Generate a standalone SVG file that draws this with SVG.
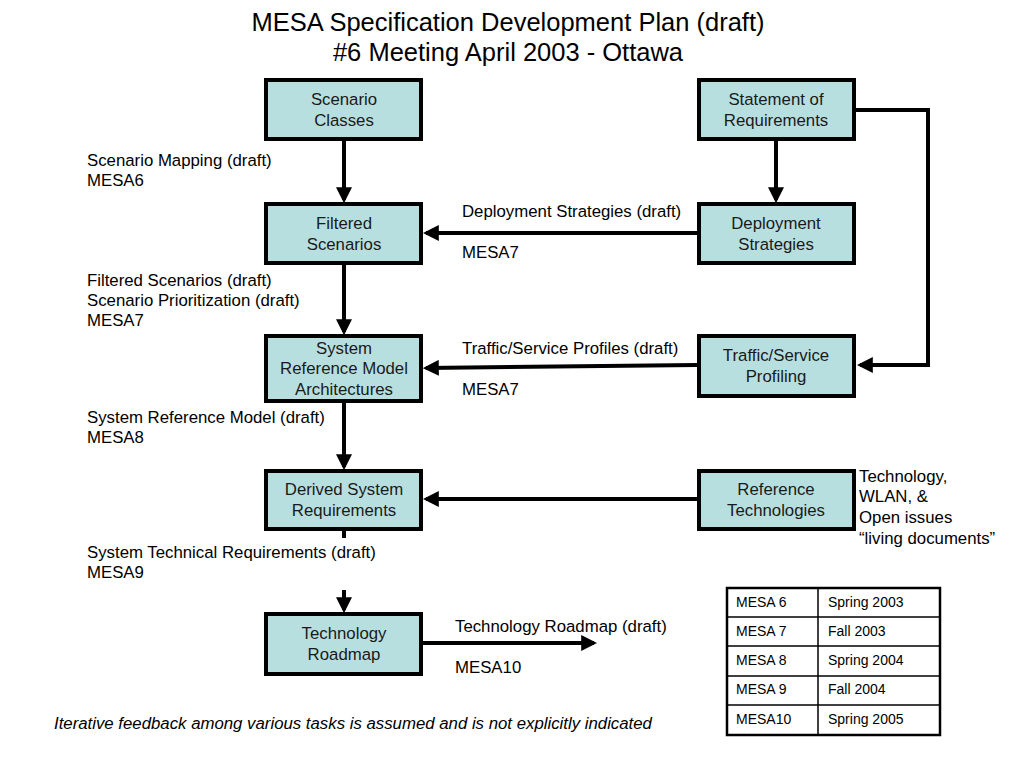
<svg xmlns="http://www.w3.org/2000/svg" width="1024" height="768" viewBox="0 0 1024 768">
<style>
.box{fill:#b8dfe0;stroke:#000;stroke-width:4}
.bt{font-family:"Liberation Sans",Arial,sans-serif;font-size:16.8px;fill:#1a1a1a;text-anchor:middle}
.lb{font-family:"Liberation Sans",Arial,sans-serif;font-size:16.8px;fill:#000}
.tt{font-family:"Liberation Sans",Arial,sans-serif;font-size:14px;fill:#000}
.ttl{font-family:"Liberation Sans",Arial,sans-serif;font-size:25.5px;fill:#000;text-anchor:middle}
.c{stroke:#000;stroke-width:4;fill:none}
.tl{stroke:#000;stroke-width:1.5;fill:none}
</style>
<defs>
<marker id="ah" markerWidth="4" markerHeight="4" refX="3.2" refY="2" orient="auto" markerUnits="strokeWidth">
<path d="M0,0 L4,2 L0,4 z" fill="#000"/>
</marker>
</defs>
<rect width="1024" height="768" fill="#fff"/>
<text class="ttl" x="508" y="31">MESA Specification Development Plan (draft)</text>
<text class="ttl" x="508" y="61">#6 Meeting April 2003 - Ottawa</text>

<g id="connectors">
<line class="c" x1="344" y1="141" x2="344" y2="200" marker-end="url(#ah)"/>
<line class="c" x1="776" y1="141" x2="776" y2="200" marker-end="url(#ah)"/>
<line class="c" x1="697" y1="233" x2="426" y2="233" marker-end="url(#ah)"/>
<line class="c" x1="344" y1="265" x2="344" y2="332" marker-end="url(#ah)"/>
<line class="c" x1="697" y1="365" x2="426" y2="368" marker-end="url(#ah)"/>
<polyline class="c" points="856,110 928,110 928,365 860,365" marker-end="url(#ah)"/>
<line class="c" x1="344" y1="403" x2="344" y2="467" marker-end="url(#ah)"/>
<line class="c" x1="697" y1="499" x2="426" y2="499" marker-end="url(#ah)"/>
<line class="c" x1="344" y1="531" x2="344" y2="538"/>
<line class="c" x1="344" y1="590" x2="344" y2="610" marker-end="url(#ah)"/>
<line class="c" x1="423" y1="643" x2="594" y2="643" marker-end="url(#ah)"/>
</g>

<g id="scenario-classes"><rect class="box" x="266" y="80" width="155" height="59"/><text class="bt" x="344" y="105">Scenario</text><text class="bt" x="344" y="126">Classes</text></g>
<g id="statement-of-requirements"><rect class="box" x="699" y="80" width="155" height="59"/><text class="bt" x="776" y="105">Statement of</text><text class="bt" x="776" y="126">Requirements</text></g>
<g id="filtered-scenarios"><rect class="box" x="266" y="204" width="155" height="59"/><text class="bt" x="344" y="229">Filtered</text><text class="bt" x="344" y="250">Scenarios</text></g>
<g id="deployment-strategies"><rect class="box" x="699" y="204" width="155" height="59"/><text class="bt" x="776" y="229">Deployment</text><text class="bt" x="776" y="250">Strategies</text></g>
<g id="system-reference-model"><rect class="box" x="266" y="336" width="155" height="65"/><text class="bt" x="344" y="354">System</text><text class="bt" x="344" y="374">Reference Model</text><text class="bt" x="344" y="395">Architectures</text></g>
<g id="traffic-service-profiling"><rect class="box" x="699" y="336" width="155" height="60"/><text class="bt" x="776" y="361">Traffic/Service</text><text class="bt" x="776" y="382">Profiling</text></g>
<g id="derived-system-requirements"><rect class="box" x="266" y="471" width="155" height="58"/><text class="bt" x="344" y="495">Derived System</text><text class="bt" x="344" y="516">Requirements</text></g>
<g id="reference-technologies"><rect class="box" x="699" y="471" width="155" height="58"/><text class="bt" x="776" y="495">Reference</text><text class="bt" x="776" y="516">Technologies</text></g>
<g id="technology-roadmap"><rect class="box" x="266" y="614" width="155" height="60"/><text class="bt" x="344" y="639">Technology</text><text class="bt" x="344" y="660">Roadmap</text></g>

<g id="labels">
<text class="lb" x="87" y="166">Scenario Mapping (draft)</text>
<text class="lb" x="87" y="186">MESA6</text>
<text class="lb" x="462" y="217">Deployment Strategies (draft)</text>
<text class="lb" x="462" y="258">MESA7</text>
<text class="lb" x="87" y="286">Filtered Scenarios (draft)</text>
<text class="lb" x="87" y="306">Scenario Prioritization (draft)</text>
<text class="lb" x="87" y="326">MESA7</text>
<text class="lb" x="462" y="354">Traffic/Service Profiles (draft)</text>
<text class="lb" x="462" y="395">MESA7</text>
<text class="lb" x="87" y="423">System Reference Model (draft)</text>
<text class="lb" x="87" y="443">MESA8</text>
<text class="lb" x="859" y="482">Technology,</text>
<text class="lb" x="859" y="502">WLAN, &amp;</text>
<text class="lb" x="859" y="523">Open issues</text>
<text class="lb" x="859" y="544">“living documents”</text>
<text class="lb" x="87" y="558">System Technical Requirements (draft)</text>
<text class="lb" x="87" y="578">MESA9</text>
<text class="lb" x="455" y="632">Technology Roadmap (draft)</text>
<text class="lb" x="455" y="673">MESA10</text>
<text class="lb" x="54" y="729" font-style="italic">Iterative feedback among various tasks is assumed and is not explicitly indicated</text>
</g>

<g id="table">
<rect x="727" y="588" width="213" height="147" fill="#fff" stroke="#000" stroke-width="2.5"/>
<line class="tl" x1="818" y1="588" x2="818" y2="735"/>
<line class="tl" x1="727" y1="617" x2="940" y2="617"/>
<line class="tl" x1="727" y1="646" x2="940" y2="646"/>
<line class="tl" x1="727" y1="676" x2="940" y2="676"/>
<line class="tl" x1="727" y1="705" x2="940" y2="705"/>
<text class="tt" x="736" y="607">MESA 6</text><text class="tt" x="828" y="607">Spring 2003</text>
<text class="tt" x="736" y="636">MESA 7</text><text class="tt" x="828" y="636">Fall 2003</text>
<text class="tt" x="736" y="665">MESA 8</text><text class="tt" x="828" y="665">Spring 2004</text>
<text class="tt" x="736" y="694">MESA 9</text><text class="tt" x="828" y="694">Fall 2004</text>
<text class="tt" x="736" y="724">MESA10</text><text class="tt" x="828" y="724">Spring 2005</text>
</g>
</svg>
